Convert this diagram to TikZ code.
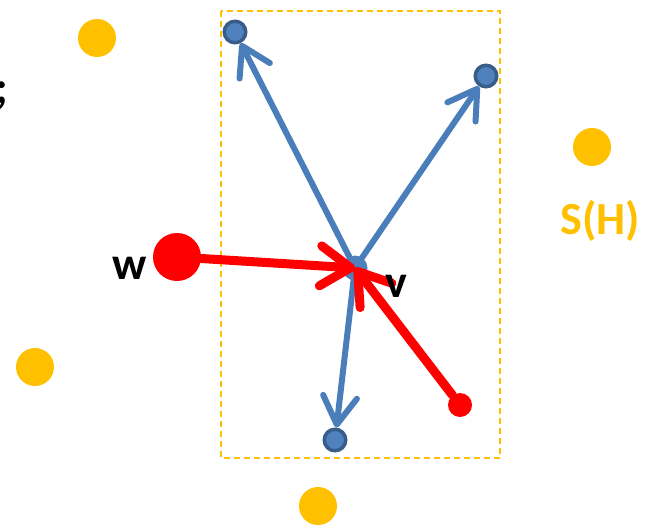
\documentclass[tikz,border=0pt]{standalone}
\usepackage{fontspec}
\setmainfont{Carlito}
\usetikzlibrary{arrows.meta}

\definecolor{gold}{HTML}{FFC000}
\definecolor{nodeblue}{HTML}{4F81BD}
\definecolor{rimblue}{HTML}{385D8A}
\definecolor{edgeblue}{HTML}{4A7EBB}

\begin{document}
\begin{tikzpicture}[x=1pt,y=-1pt,
    dot/.style={circle, fill=gold, minimum size=38pt, inner sep=0pt},
    leaf/.style={circle, fill=nodeblue, draw=rimblue, line width=3.5pt, minimum size=21.5pt, inner sep=0pt},
    hub/.style={circle, fill=nodeblue, minimum size=25pt, inner sep=0pt},
    src/.style={circle, fill=red, inner sep=0pt},
    lbl/.style={font=\fontsize{46}{52}\selectfont\bfseries, inner sep=0pt},
    bluearrow/.style={edgeblue, line width=6pt, line cap=round, -{Straight Barb[length=28pt, width=34pt, round]}},
    redarrow/.style={red, line width=9pt, line cap=round, -{Straight Barb[length=30pt, width=40pt, round]}}]
  \useasboundingbox (0,0) rectangle (653,527);

  % region of v
  \draw[gold, line width=2pt, dash pattern=on 6pt off 4pt] (221,11) rectangle (500,458);

  % vertices of S(H)
  \node[dot] (s1) at (97,38) {};
  \node[dot] (s2) at (592,147) {};
  \node[dot] (s3) at (35,367) {};
  \node[dot] (s4) at (318,506) {};
  \node[lbl, text=gold] (sh) at (600,221) {S(H)};

  % cut-off text on the left
  \node[lbl, anchor=base east] (cut) at (8,103) {;};

  % out-neighbours of v
  \node[leaf] (t1) at (235,32) {};
  \node[leaf] (t2) at (486,76) {};
  \node[leaf] (t3) at (335,440) {};
  \node[hub] (v) at (355,268) {};
  \foreach \t in {t1,t2,t3}
    \draw[bluearrow] (v) -- (\t);

  % in-neighbours of v
  \node[src, minimum size=48pt] (w) at (177,257) {};
  \node[src, minimum size=24pt] (u) at (460,405) {};
  \draw[redarrow] (w) -- (v.center);
  \draw[redarrow] (u) -- (v.center);

  % labels
  \node[lbl] (wl) at (130,268) {w};
  \node[lbl] (vl) at (396,286) {v};
\end{tikzpicture}
\end{document}
